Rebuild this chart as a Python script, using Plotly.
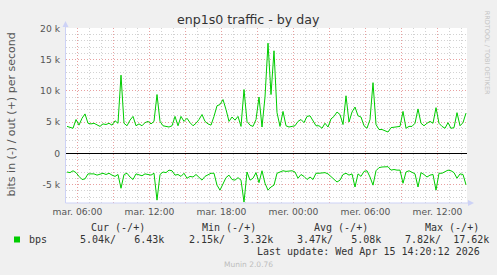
import plotly.graph_objects as go
import pandas as pd

# ---- data (k bits per second), one sample every 15 minutes ----
out_k = [4.3, 4.2, 4.0, 5.4, 4.5, 5.6, 6.3, 4.8, 4.7, 4.8, 4.6, 4.3, 4.7, 4.6, 4.8, 4.5,
         5.2, 4.8, 12.5, 4.8, 4.4, 5.3, 5.9, 4.4, 4.7, 4.4, 4.9, 5.1, 4.7, 5.1, 9.4, 5.1,
         4.4, 4.3, 4.2, 4.4, 5.9, 4.4, 5.9, 5.1, 5.6, 4.9, 4.4, 4.8, 5.4, 6.2, 5.1, 4.7,
         4.5, 5.9, 7.6, 7.8, 8.6, 7.0, 5.1, 5.8, 5.3, 5.9, 4.3, 10.2, 5.1, 4.5, 4.3, 5.4,
         9.0, 4.2, 9.0, 17.62, 9.4, 16.4, 6.5, 4.3, 6.7, 4.4, 4.2, 4.3, 4.4, 5.1, 5.4, 4.9,
         5.9, 6.0, 5.1, 4.4, 4.4, 4.0, 4.8, 4.2, 5.5, 5.9, 6.6, 6.2, 4.6, 9.2, 5.0, 6.6,
         7.4, 6.0, 5.8, 4.4, 4.0, 5.4, 11.3, 4.6, 3.8, 3.8, 3.6, 3.4, 4.1, 4.2, 4.3, 4.3,
         6.7, 4.0, 4.3, 4.3, 4.8, 7.1, 4.8, 4.4, 4.8, 5.1, 4.8, 7.3, 4.8, 4.3, 4.0, 4.9,
         4.0, 4.1, 6.5, 4.4, 4.9, 6.43]
in_k = [-3.0, -3.1, -2.8, -3.1, -3.7, -4.2, -4.1, -3.3, -3.3, -3.3, -3.5, -3.3, -3.2, -3.4, -3.2, -3.5,
        -3.7, -3.4, -5.6, -3.4, -3.2, -3.8, -4.2, -3.3, -3.4, -3.6, -3.3, -3.4, -3.5, -3.2, -7.5, -3.4,
        -3.0, -3.1, -2.7, -2.8, -3.5, -3.4, -3.7, -3.2, -4.0, -3.7, -3.8, -3.4, -3.9, -4.3, -3.7, -3.4,
        -3.2, -3.2, -5.1, -5.9, -4.8, -3.9, -3.5, -4.2, -4.3, -3.9, -4.3, -7.82, -3.0, -4.3, -4.0, -3.1,
        -4.7, -2.8, -4.8, -5.9, -5.4, -5.1, -3.2, -3.0, -2.8, -2.9, -2.8, -2.8, -3.0, -4.0, -3.4, -3.7,
        -4.2, -3.8, -4.2, -3.2, -3.2, -3.1, -3.1, -3.3, -3.7, -4.2, -4.6, -4.3, -3.4, -3.2, -3.5, -3.3,
        -5.4, -3.3, -3.7, -2.9, -2.8, -3.8, -5.1, -2.8, -2.3, -2.2, -2.2, -2.15, -2.7, -2.6, -2.7, -2.7,
        -4.8, -3.0, -2.8, -3.1, -3.3, -5.4, -3.1, -3.4, -3.8, -3.5, -3.4, -5.9, -3.2, -3.2, -3.0, -2.7,
        -2.8, -3.1, -4.0, -3.3, -3.4, -5.04]
start_time = "2026-04-14 05:07:30"
sample_step = "15min"

y_tickvals = [-5000, 0, 5000, 10000, 15000, 20000]
y_ticktext = ["-5 k", "0", "5 k", "10 k", "15 k", "20 k"]
x_tickvals = ["2026-04-14 06:00", "2026-04-14 09:00", "2026-04-14 12:00", "2026-04-14 15:00",
              "2026-04-14 18:00", "2026-04-14 21:00", "2026-04-15 00:00", "2026-04-15 03:00",
              "2026-04-15 06:00", "2026-04-15 09:00", "2026-04-15 12:00"]
x_ticktext = ["mar. 06:00", "", "mar. 12:00", "", "mar. 18:00", "", "mer. 00:00", "",
              "mer. 06:00", "", "mer. 12:00"]
x_range = ["2026-04-14 05:02:30", "2026-04-15 14:27:30"]
y_range = [-7960, 20050]

legend_head = ["Cur (-/+)", "Min (-/+)", "Avg (-/+)", "Max (-/+)"]
legend_vals = ["5.04k/   6.43k", "2.15k/   3.32k", "3.47k/   5.08k", "7.82k/  17.62k"]
series_name = "bps"
last_update = "Last update: Wed Apr 15 14:20:12 2026"

# ---- layout geometry (pixels) ----
W, H = 497, 275
L, R, T, B = 66, 30, 28, 72
PW, PH = W - L - R, H - T - B

def px(x):
    return (x - L) / PW

def py(y):
    return (H - B - y) / PH

GREEN = "#00CC00"
AXIS = "#CDD2F6"
TXT = "#555555"

times = pd.date_range(start_time, periods=len(out_k), freq=sample_step)

fig = go.Figure()
fig.add_trace(go.Scatter(x=times, y=[v * 1000 for v in out_k], mode="lines",
                         line=dict(color=GREEN, width=1), hoverinfo="skip", showlegend=False))
fig.add_trace(go.Scatter(x=times, y=[v * 1000 for v in in_k], mode="lines",
                         line=dict(color=GREEN, width=1), hoverinfo="skip", showlegend=False))

tickfont = dict(family="DejaVu Sans", size=9.2, color=TXT)
fig.update_layout(
    width=W, height=H,
    margin=dict(l=L, r=R, t=T, b=B, pad=0),
    paper_bgcolor="#F0F0F0", plot_bgcolor="#FFFFFF",
    showlegend=False,
    xaxis=dict(type="date", range=x_range, tickmode="array", tickvals=x_tickvals,
               ticktext=x_ticktext, showgrid=True, gridcolor="#E8A0A0", griddash="1px,2px",
               gridwidth=1, zeroline=False, showline=False, ticks="", tickfont=tickfont,
               ticklabelstandoff=2,
               minor=dict(dtick=3600000, tick0="2026-04-14 06:00", showgrid=True,
                          gridcolor="#D2D2D2", griddash="1px,2px", gridwidth=1, ticks="")),
    yaxis=dict(range=y_range, tickmode="array", tickvals=y_tickvals, ticktext=y_ticktext,
               showgrid=True, gridcolor="#E8A0A0", griddash="1px,2px", gridwidth=1,
               zeroline=True, zerolinecolor="#000000", zerolinewidth=1,
               showline=False, ticks="", tickfont=tickfont, ticklabelstandoff=5,
               minor=dict(dtick=1000, tick0=0, showgrid=True, gridcolor="#D2D2D2",
                          griddash="1px,2px", gridwidth=1, ticks="")),
)

shapes = [
    # left axis with arrow
    dict(type="line", xref="paper", yref="paper", x0=px(65.5), x1=px(65.5), y0=py(203), y1=py(23),
         line=dict(color=AXIS, width=1)),
    dict(type="path", xref="paper", yref="paper",
         path=f"M {px(62.5)} {py(27)} L {px(68.5)} {py(27)} L {px(65.5)} {py(21)} Z",
         fillcolor=AXIS, line=dict(color=AXIS, width=0)),
    # bottom axis with arrow
    dict(type="line", xref="paper", yref="paper", x0=px(65.5), x1=px(472), y0=py(203), y1=py(203),
         line=dict(color=AXIS, width=1)),
    dict(type="path", xref="paper", yref="paper",
         path=f"M {px(468)} {py(200)} L {px(468)} {py(206)} L {px(474)} {py(203)} Z",
         fillcolor=AXIS, line=dict(color=AXIS, width=0)),
    # legend colour box
    dict(type="rect", xref="paper", yref="paper", x0=px(14), x1=px(20), y0=py(242.5), y1=py(236.5),
         fillcolor=GREEN, line=dict(width=0)),
]
fig.update_layout(shapes=shapes)

mono = dict(family="DejaVu Sans Mono", size=10, color="#333333")

def nb(s):
    return s.replace(" ", "\u00a0")

ann = [
    dict(text="enp1s0 traffic - by day", x=px(248.7), y=py(19), xanchor="center", yanchor="middle",
         font=dict(family="DejaVu Sans", size=12.6, color="#333333")),
    dict(text="bits in (-) / out (+) per second", x=px(11), y=py(114.5), xanchor="center",
         yanchor="middle", textangle=-90, font=dict(family="DejaVu Sans", size=11, color=TXT)),
    dict(text="RRDTOOL / TOBI OETIKER", x=px(487.7), y=py(52.5), xanchor="center", yanchor="middle",
         textangle=90, font=dict(family="DejaVu Sans", size=6.5, color="#C4C4C4")),
    dict(text="Munin 2.0.76", x=px(248), y=py(264), xanchor="center", yanchor="middle",
         font=dict(family="DejaVu Sans", size=7.5, color="#BDBDBD")),
    dict(text=nb(series_name), x=px(26.7), y=py(239.3), xanchor="left", yanchor="middle", font=mono),
    dict(text=nb(last_update), x=px(482.3), y=py(251), xanchor="right", yanchor="middle", font=mono),
]
head_x = [89.3, 200, 312.3, 423.3]
val_x = [78.3, 186.7, 295, 403.3]
for hx, h in zip(head_x, legend_head):
    ann.append(dict(text=nb(h), x=px(hx), y=py(227.7), xanchor="left", yanchor="middle", font=mono))
for vx, v in zip(val_x, legend_vals):
    ann.append(dict(text=nb(v), x=px(vx), y=py(239.3), xanchor="left", yanchor="middle", font=mono))
for a in ann:
    a.update(xref="paper", yref="paper", showarrow=False)
fig.update_layout(annotations=ann)

fig.write_html("out.html")
